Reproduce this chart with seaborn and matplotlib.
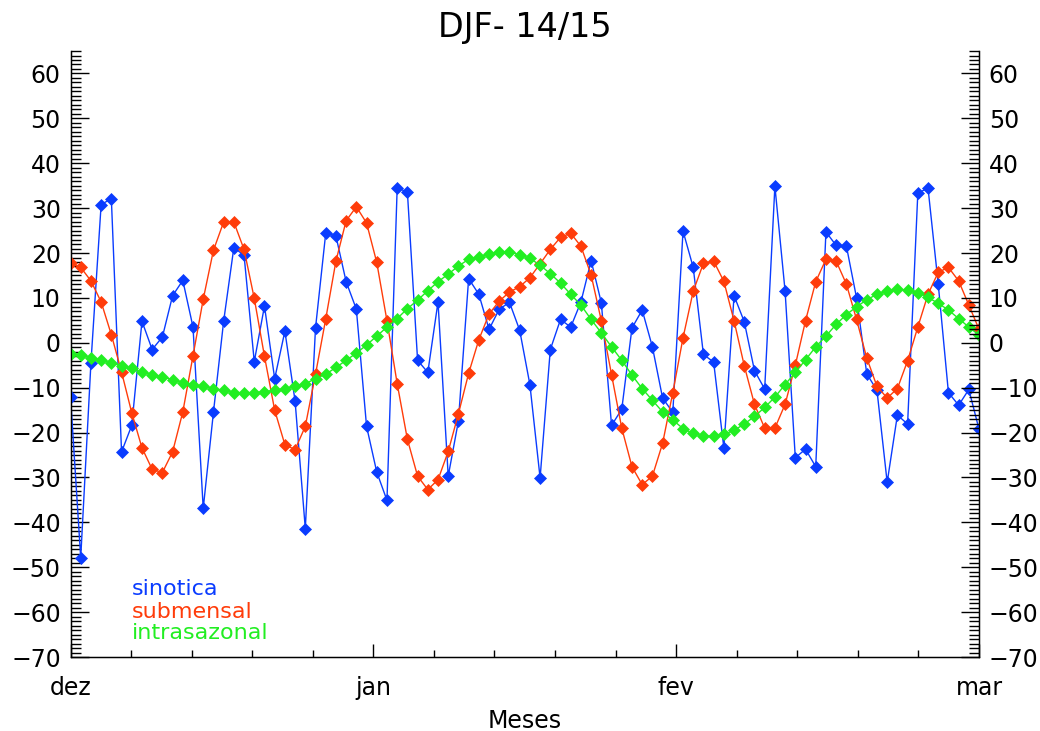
import numpy as np
import pandas as pd
import matplotlib
matplotlib.use("Agg")
import matplotlib.pyplot as plt
import seaborn as sns
from matplotlib.ticker import MultipleLocator

# Daily anomaly components for DJF 2014/15 (90 days spread over the 0-90 axis)
dias = np.linspace(0, 90, 90)

sinotica = [
    -12.0, -47.9, -4.5, 30.8, 32.1, -24.3, -18.4, 4.8, -1.5, 1.3,
    10.5, 13.9, 3.5, -36.9, -15.5, 4.8, 21.2, 19.5, -4.2, 8.2,
    -8.0, 2.6, -13.0, -41.4, 3.3, 24.4, 23.8, 13.6, 7.5, -18.6,
    -28.8, -35.1, 34.5, 33.6, -3.9, -6.6, 9.1, -29.7, -17.4, 14.3,
    10.8, 3.0, 7.5, 9.0, 2.8, -9.3, -30.1, -1.5, 5.2, 3.5,
    9.1, 18.3, 8.9, -18.4, -14.8, 3.3, 7.3, -0.9, -12.3, -15.5,
    24.9, 16.8, -2.6, -4.3, -23.4, 10.5, 4.7, -6.2, -10.3, 34.9,
    11.5, -25.6, -23.7, -27.6, 24.7, 21.7, 21.6, 10.0, -6.9, -10.6,
    -31.1, -16.1, -18.1, 33.3, 34.5, 13.1, -11.1, -13.9, -10.4, -19.3,
]

submensal = [
    17.7, 16.8, 13.8, 9.1, 1.8, -6.5, -15.6, -23.4, -28.2, -28.9,
    -24.3, -15.4, -2.9, 9.7, 20.6, 26.9, 26.9, 20.8, 9.9, -3.0,
    -15.0, -22.7, -23.8, -18.6, -7.0, 5.3, 18.2, 27.2, 30.3, 26.7,
    17.9, 4.9, -9.1, -21.5, -29.7, -32.7, -30.5, -24.2, -15.8, -6.8,
    0.7, 6.4, 9.3, 11.3, 12.5, 14.5, 17.6, 20.8, 23.5, 24.4,
    21.5, 15.1, 4.9, -7.1, -19.0, -27.6, -31.6, -29.7, -22.4, -11.1,
    1.1, 11.5, 17.7, 18.2, 13.7, 4.9, -5.1, -13.7, -19.0, -19.0,
    -13.7, -5.0, 4.9, 13.6, 18.6, 18.2, 13.1, 5.2, -3.4, -9.7,
    -12.3, -10.2, -4.0, 3.5, 10.8, 15.7, 16.8, 13.8, 8.4, 3.0,
]

intrasazonal = [
    -2.4, -2.8, -3.3, -3.9, -4.5, -5.1, -5.7, -6.5, -7.1, -7.6,
    -8.2, -8.9, -9.4, -9.7, -10.2, -10.6, -11.1, -11.1, -11.1, -10.9,
    -10.6, -10.2, -9.7, -9.1, -8.0, -7.0, -5.5, -3.9, -2.3, -0.5,
    1.5, 3.5, 5.4, 7.6, 9.5, 11.6, 13.6, 15.3, 17.1, 18.6,
    19.1, 19.7, 20.3, 20.3, 19.6, 18.8, 17.3, 15.4, 13.3, 10.8,
    8.4, 5.2, 2.2, -0.9, -3.9, -7.2, -10.2, -12.8, -15.4, -17.2,
    -19.1, -20.2, -20.8, -20.8, -20.4, -19.5, -18.1, -16.4, -14.4, -12.1,
    -9.3, -6.6, -3.8, -0.9, 1.5, 4.1, 6.3, 8.0, 9.6, 10.8,
    11.5, 11.9, 11.7, 11.2, 10.1, 8.8, 7.3, 5.4, 3.5, 1.7,
]

meses_pos = [0, 30, 60, 90]
meses = ["dez", "jan", "fev", "mar"]
series = ["sinotica", "submensal", "intrasazonal"]
cores = ["#0a3cff", "#ff3c0a", "#22ee22"]

sns.set_style("white", {
    "axes.edgecolor": "black",
    "xtick.color": "black",
    "ytick.color": "black",
    "text.color": "black",
    "axes.labelcolor": "black",
})
plt.rcParams["font.family"] = ["DejaVu Sans"]

df = pd.DataFrame({
    "dia": dias,
    "sinotica": sinotica,
    "submensal": submensal,
    "intrasazonal": intrasazonal,
}).melt(id_vars="dia", var_name="serie", value_name="valor")

fig = plt.figure(figsize=(10.4, 7.31), dpi=100)
ax = fig.add_axes([0.0678, 0.1012, 0.8736, 0.8290])

for k, (nome, cor) in enumerate(zip(series, cores)):
    sub = df[df["serie"] == nome]
    sns.lineplot(data=sub, x="dia", y="valor", color=cor, marker="D",
                 markersize=6, markeredgecolor=cor, markeredgewidth=0.5,
                 linewidth=1.0, ax=ax, legend=False, zorder=3 + k)

ax.set_xlim(0, 90)
ax.set_ylim(-70, 65)
ax.spines["top"].set_visible(False)
for s in ["left", "right", "bottom"]:
    ax.spines[s].set_linewidth(1.0)

ax.yaxis.set_major_locator(MultipleLocator(10))
ax.yaxis.set_minor_locator(MultipleLocator(1))
ax.set_xticks(meses_pos)
ax.set_xticklabels(meses)
ax.xaxis.set_minor_locator(MultipleLocator(6))

ax.tick_params(axis="y", which="major", direction="in", length=13, width=1,
               labelsize=17, pad=7, left=True, right=False)
ax.tick_params(axis="y", which="minor", direction="in", length=7, width=1,
               left=True, right=False)
ax.tick_params(axis="x", which="major", direction="in", length=9.5, width=1,
               labelsize=17, pad=14, bottom=True, top=False)
ax.tick_params(axis="x", which="minor", direction="in", length=4.7, width=1,
               bottom=True, top=False)

ax2 = ax.twinx()
ax2.set_ylim(-70, 65)
ax2.spines["top"].set_visible(False)
ax2.yaxis.set_major_locator(MultipleLocator(10))
ax2.yaxis.set_minor_locator(MultipleLocator(1))
ax2.tick_params(axis="y", which="major", direction="in", length=13, width=1,
                labelsize=17, pad=7, right=True, left=False)
ax2.tick_params(axis="y", which="minor", direction="in", length=7, width=1,
                right=True, left=False)
ax2.grid(False)

ax.set_xlabel("Meses", fontsize=17, labelpad=6)
ax.set_ylabel("")
ax.set_title("DJF- 14/15", fontsize=24, pad=10)

# Series names written in their line colours, stacked in the lower left
for nome, cor, yb in zip(series, cores, [0.1023, 0.0639, 0.0292]):
    ax.text(0.0674, yb, nome, color=cor, fontsize=16, ha="left",
            va="baseline", transform=ax.transAxes)

fig.savefig("out.png", dpi=100)
